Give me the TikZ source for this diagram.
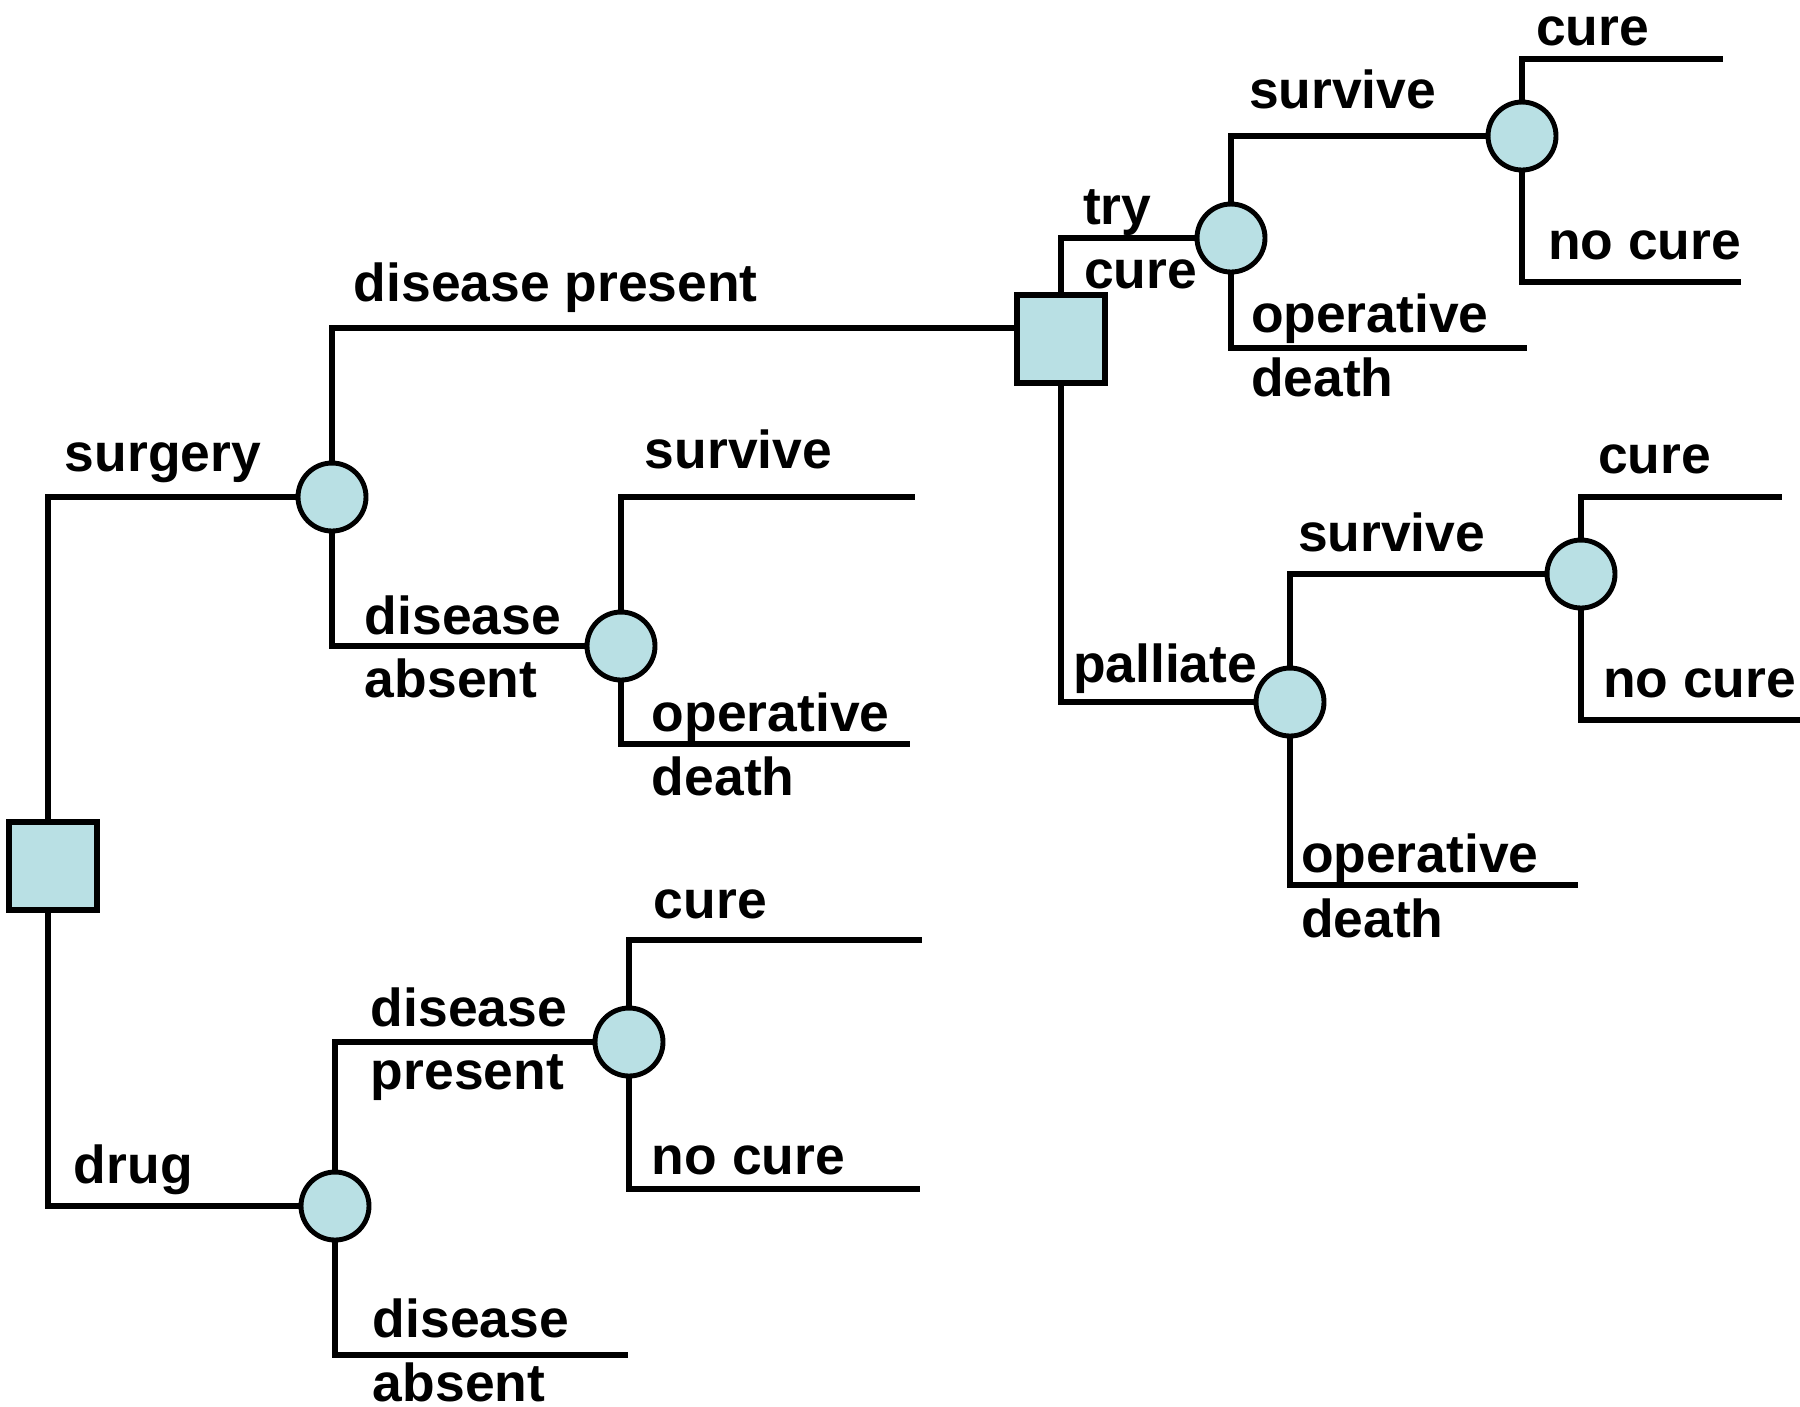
\documentclass[tikz,border=0pt]{standalone}
\usepackage{fontspec}
\setmainfont{Liberation Sans}
\begin{document}
\definecolor{nodefill}{RGB}{185,224,228}
\newcommand{\lblfont}{\fontsize{15.2}{18}\selectfont\bfseries}
\begin{tikzpicture}[x=0.1mm, y=-0.1mm, line width=1.7pt,
  chance/.style={circle, draw, fill=nodefill, minimum size=6.8mm, inner sep=0pt, line width=1.4pt},
  choice/.style={rectangle, draw, fill=nodefill, minimum size=8.8mm, inner sep=0pt, line width=1.5pt},
  lbl/.style={anchor=base west, inner sep=0pt, xshift=-0.3mm, font=\lblfont}]
\useasboundingbox (0,0) rectangle (1800,1406);

% decision and chance nodes
\node[choice] (r)  at (53,866) {};
\node[choice] (s2) at (1061,339) {};
\node[chance] (c1) at (332,497) {};
\node[chance] (c2) at (621,646) {};
\node[chance] (c3) at (335,1206) {};
\node[chance] (c4) at (629,1042) {};
\node[chance] (c5) at (1231,238) {};
\node[chance] (c6) at (1290,702) {};
\node[chance] (c7) at (1522,136) {};
\node[chance] (c8) at (1581,574) {};

% free ends of the terminal branches
\coordinate (e1) at (915,497);
\coordinate (e2) at (910,744);
\coordinate (e3) at (922,940);
\coordinate (e4) at (920,1189);
\coordinate (e5) at (628,1355);
\coordinate (e6) at (1527,348);
\coordinate (e7) at (1723,59);
\coordinate (e8) at (1741,282);
\coordinate (e9) at (1578,885);
\coordinate (e10) at (1782,497);
\coordinate (e11) at (1800,720);

% branches
\draw ([xshift=-0.5mm]r.north) |- (c1.west);
\draw ([xshift=-0.5mm]r.south) |- (c3.west);
\draw (c1.north) |- ([yshift=1.1mm]s2.west);
\draw (c1.south) |- (c2.west);
\draw (c2.north) |- (e1);
\draw (c2.south) |- (e2);
\draw (c3.north) |- (c4.west);
\draw (c3.south) |- (e5);
\draw (c4.north) |- (e3);
\draw (c4.south) |- (e4);
\draw (s2.north) |- (c5.west);
\draw (s2.south) |- (c6.west);
\draw (c5.north) |- (c7.west);
\draw (c5.south) |- (e6);
\draw (c7.north) |- (e7);
\draw (c7.south) |- (e8);
\draw (c6.north) |- (c8.west);
\draw (c6.south) |- (e9);
\draw (c8.north) |- (e10);
\draw (c8.south) |- (e11);

% branch labels
\node[lbl] (l1)  at (65,471)   {surgery};
\node[lbl] (l2)  at (74,1183)  {drug};
\node[lbl] (l3)  at (354,301)  {disease present};
\node[lbl] (l4a) at (365,634)  {disease};
\node[lbl] (l4b) at (365,697)  {absent};
\node[lbl] (l5)  at (645,468)  {survive};
\node[lbl] (l6a) at (652,731)  {operative};
\node[lbl] (l6b) at (652,795)  {death};
\node[lbl] (l7a) at (371,1026) {disease};
\node[lbl] (l7b) at (371,1089) {present};
\node[lbl] (l8a) at (373,1337) {disease};
\node[lbl] (l8b) at (373,1401) {absent};
\node[lbl] (l9)  at (654,918)  {cure};
\node[lbl] (l10) at (652,1174) {no cure};
\node[lbl] (l11a) at (1083,224) {try};
\node[lbl] (l11b) at (1084,288) {cure};
\node[lbl] (l12) at (1073,682) {palliate};
\node[lbl] (l13) at (1249,108) {survive};
\node[lbl] (l14a) at (1251,332) {operative};
\node[lbl] (l14b) at (1251,396) {death};
\node[lbl] (l15) at (1536,45)  {cure};
\node[lbl] (l16) at (1548,259) {no cure};
\node[lbl] (l17) at (1298,551) {survive};
\node[lbl] (l18a) at (1301,872) {operative};
\node[lbl] (l18b) at (1301,937) {death};
\node[lbl] (l19) at (1598,473) {cure};
\node[lbl] (l20) at (1603,697) {no cure};
\end{tikzpicture}
\end{document}
